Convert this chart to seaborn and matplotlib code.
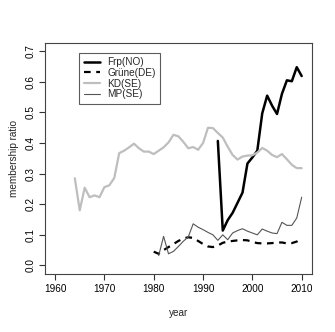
import numpy as np
import pandas as pd
import matplotlib
matplotlib.use("Agg")
import matplotlib.pyplot as plt
import seaborn as sns

sns.set_style("white")
plt.rcParams['font.family'] = ['Liberation Sans', 'DejaVu Sans']

kd_years = list(range(1964, 2011))
kd_vals = [0.285, 0.18, 0.254, 0.223, 0.229, 0.223, 0.256, 0.262, 0.286, 0.367,
           0.375, 0.386, 0.398, 0.383, 0.372, 0.372, 0.364, 0.375, 0.386, 0.402,
           0.427, 0.422, 0.404, 0.383, 0.387, 0.378, 0.40, 0.45, 0.449, 0.433,
           0.418, 0.388, 0.361, 0.346, 0.356, 0.359, 0.36, 0.369, 0.384, 0.375,
           0.361, 0.354, 0.364, 0.347, 0.329, 0.318, 0.318]

frp_years = list(range(1993, 2011))
frp_vals = [0.407, 0.114, 0.148, 0.172, 0.205, 0.238, 0.333, 0.353, 0.375, 0.497,
            0.555, 0.522, 0.495, 0.561, 0.605, 0.602, 0.648, 0.619]

grune_years = list(range(1980, 2011))
grune_vals = [0.045, 0.038, 0.05, 0.06, 0.07, 0.08, 0.088, 0.092, 0.09, 0.08,
              0.07, 0.062, 0.06, 0.065, 0.074, 0.078, 0.08, 0.082, 0.083, 0.082,
              0.077, 0.073, 0.072, 0.072, 0.073, 0.075, 0.075, 0.072, 0.073, 0.078,
              0.087]

mp_years = list(range(1981, 2011))
mp_vals = [0.032, 0.095, 0.038, 0.046, 0.062, 0.079, 0.093, 0.136, 0.125, 0.117,
           0.108, 0.10, 0.082, 0.10, 0.084, 0.106, 0.114, 0.12, 0.112, 0.106,
           0.10, 0.119, 0.112, 0.106, 0.104, 0.141, 0.131, 0.131, 0.155, 0.223]

labels = ["Frp(NO)", "Grüne(DE)", "KD(SE)", "MP(SE)"]

fig = plt.figure(figsize=(3.35, 3.32), dpi=100)
ax = fig.add_axes([0.135, 0.1747, 0.795, 0.6967])

series = [
    (frp_years, frp_vals, "black", "-", 1.8),
    (grune_years, grune_vals, "black", (0, (3, 2.5)), 1.6),
    (kd_years, kd_vals, "#BEBEBE", "-", 1.6),
    (mp_years, mp_vals, "#555555", "-", 0.8),
]
for (xs, ys, col, ls, lw), lab in zip(series, labels):
    df = pd.DataFrame({"year": xs, "ratio": ys})
    sns.lineplot(data=df, x="year", y="ratio", ax=ax, color=col, linestyle=ls,
                 linewidth=lw, label=lab)

ax.set_xlim(1958, 2012)
ax.set_ylim(-0.028, 0.728)
ax.set_xticks([1960, 1970, 1980, 1990, 2000, 2010])
ax.set_yticks([0.0, 0.1, 0.2, 0.3, 0.4, 0.5, 0.6, 0.7])
ax.set_yticklabels(["0.0", "0.1", "0.2", "0.3", "0.4", "0.5", "0.6", "0.7"],
                   rotation=90, va="center")
ax.tick_params(axis="both", which="both", direction="out", length=4, width=0.8,
               labelsize=7.2, colors="#333333", labelcolor="black", pad=3,
               bottom=True, left=True)
ax.set_xlabel("year", fontsize=7.2, labelpad=10)
ax.set_ylabel("membership ratio", fontsize=7.2, labelpad=5)
for sp in ax.spines.values():
    sp.set_color("#444444")
    sp.set_linewidth(0.8)

leg = ax.legend(loc="upper left", bbox_to_anchor=(0.1276, 0.957), fontsize=7.2,
                frameon=True, fancybox=False, edgecolor="#333333",
                handlelength=1.6, handletextpad=0.75, borderpad=0.45,
                labelspacing=0.07, borderaxespad=0)
leg.get_frame().set_linewidth(0.8)

fig.savefig("out.png", dpi=100)
